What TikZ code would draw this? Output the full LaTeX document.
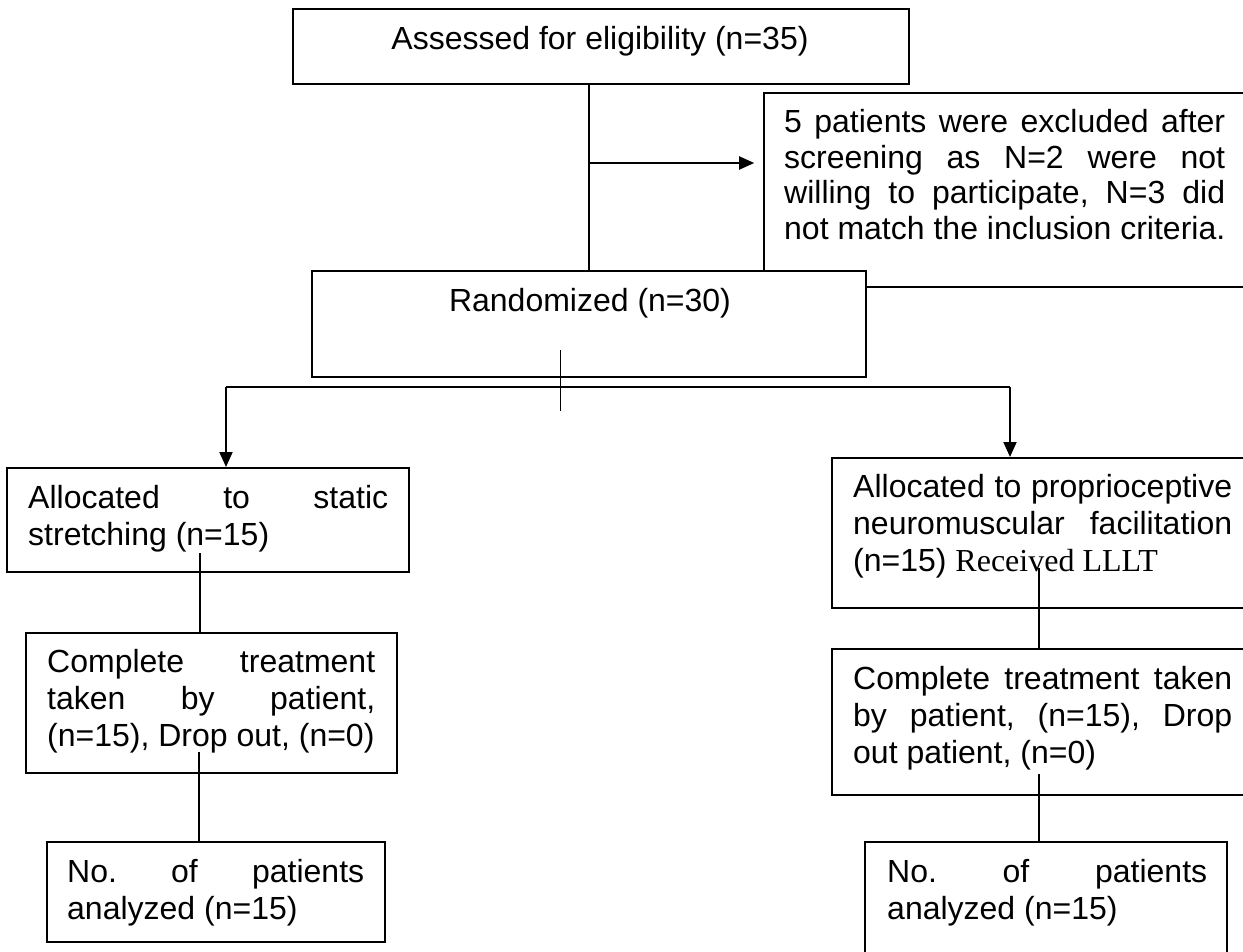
\documentclass[tikz,border=0pt]{standalone}
\usepackage{fontspec}
\setmainfont{Liberation Sans}
\newfontfamily\tnr{Liberation Serif}
\usetikzlibrary{arrows.meta}
\frenchspacing
\newcommand{\jline}[2]{\makebox[#1][s]{#2}}
\begin{document}
\begin{tikzpicture}[x=1pt,y=-1pt,
  box/.style={draw, line width=2pt, fill=white, inner sep=0pt},
  txt/.style={anchor=base west, inner sep=0pt, font=\fontsize{32}{37}\selectfont},
  conn/.style={line width=2pt},
  arr/.style={line width=2pt, -{Triangle[length=15pt,width=13pt]}}]
\clip (0,0) rectangle (1243,952);
\fill[white] (0,0) rectangle (1243,952);
% boxes
\node[box, line width=1.6pt, minimum width=496pt, minimum height=194pt] (excl) at (1012,190) {};
\node[box, minimum width=616pt, minimum height=75pt] (top) at (601,46.5) {};
\node[box, minimum width=554pt, minimum height=106pt] (rnd) at (589,324) {};
\node[box, minimum width=402pt, minimum height=104pt] (alloc1) at (208,520) {};
\node[box, minimum width=371pt, minimum height=140pt] (comp1) at (211.5,703) {};
\node[box, minimum width=338pt, minimum height=100pt] (no1) at (216,892) {};
\node[box, minimum width=428pt, minimum height=150pt] (alloc2) at (1046,533) {};
\node[box, minimum width=428pt, minimum height=146pt] (comp2) at (1046,722) {};
\node[box, minimum width=362pt, minimum height=118pt] (no2) at (1046,901) {};
% texts
\node[txt, anchor=base] (ttop) at (600,50) {Assessed for eligibility (n=35)};
\node[txt, anchor=base] (trnd) at (590,312) {Randomized (n=30)};
\node[txt] (texcl) at (784,133) {\parbox[t]{441pt}{\fontsize{32}{35.5}\selectfont
  \jline{441pt}{5 patients were excluded after}\\
  \jline{441pt}{screening as N=2 were not}\\
  \jline{441pt}{willing to participate, N=3 did}\\
  \mbox{not match the inclusion criteria.}}};
\node[txt] (talloc1) at (28,508) {\parbox[t]{360pt}{%
  \jline{360pt}{Allocated to static}\\
  \mbox{stretching (n=15)}}};
\node[txt] (tcomp1) at (47,672) {\parbox[t]{328pt}{%
  \jline{328pt}{Complete treatment}\\
  \jline{328pt}{taken by patient,}\\
  \mbox{(n=15), Drop out, (n=0)}}};
\node[txt] (tno1) at (67,882) {\parbox[t]{297pt}{%
  \jline{297pt}{No. of patients}\\
  \mbox{analyzed (n=15)}}};
\node[txt] (talloc2) at (853,497) {\parbox[t]{379pt}{%
  \jline{379pt}{Allocated to proprioceptive}\\
  \jline{379pt}{neuromuscular facilitation}\\
  \mbox{(n=15) {\tnr Received LLLT}}}};
\node[txt] (tcomp2) at (853,689) {\parbox[t]{379pt}{%
  \jline{379pt}{Complete treatment taken}\\
  \jline{379pt}{by patient, (n=15), Drop}\\
  \mbox{out patient, (n=0)}}};
\node[txt] (tno2) at (887,882) {\parbox[t]{320pt}{%
  \jline{320pt}{No. of patients}\\
  \mbox{analyzed (n=15)}}};
% connectors
\draw[conn] (rnd.north) -- (rnd.north |- top.south);
\coordinate (a1) at (589,163);
\draw[arr, shorten >=9pt] (a1) -- (a1 -| excl.west);
\coordinate (r1) at (560,350);
\coordinate (r2) at (560,411);
\draw[line width=1pt] (r1) -- (r2);
\coordinate (h1) at (226,387);
\coordinate (h2) at (1010,387);
\draw[conn] (h1) -- (h2);
\draw[arr] (h1) -- (h1 |- alloc1.north);
\draw[arr] (h2) -- (h2 |- alloc2.north);
\coordinate (l1) at (200,553);
\draw[conn] (l1) -- (l1 |- comp1.north);
\coordinate (l2) at (199,752);
\draw[conn] (l2) -- (l2 |- no1.north);
\coordinate (q1) at (1039,568);
\draw[conn] (q1) -- (q1 |- comp2.north);
\coordinate (q2) at (1039,774);
\draw[conn] (q2) -- (q2 |- no2.north);
\end{tikzpicture}
\end{document}
